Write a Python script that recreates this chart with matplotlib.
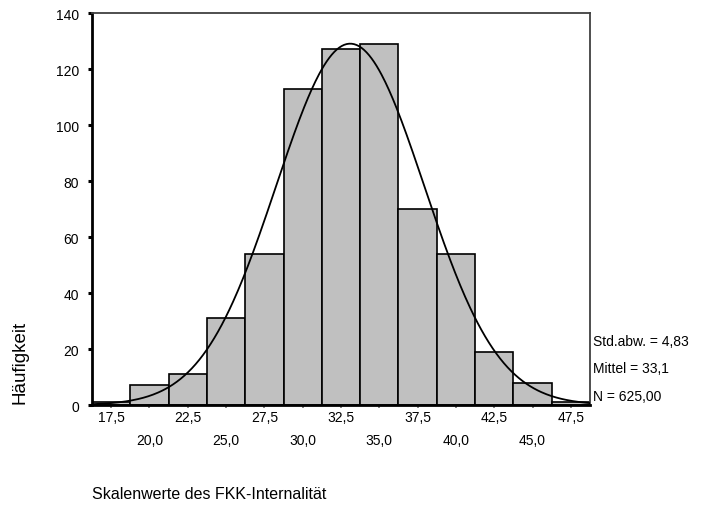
import numpy as np
import matplotlib.pyplot as plt

plt.rcParams['font.family'] = ['Liberation Sans', 'DejaVu Sans']

# Klassenmitten und Häufigkeiten der Skalenwerte
klassen = [17.5, 20.0, 22.5, 25.0, 27.5, 30.0, 32.5, 35.0, 37.5, 40.0, 42.5, 45.0, 47.5]
haeufigkeit = [1, 7, 11, 31, 54, 113, 127, 129, 70, 54, 19, 8, 1]
breite = 2.5

# Kennwerte für die Normalverteilungskurve
std_abw = 4.83
mittel = 33.1
n = 625

ytick_werte = [0, 20, 40, 60, 80, 100, 120, 140]


def komma(v, stellen):
    return f'{v:.{stellen}f}'.replace('.', ',')


fig = plt.figure(figsize=(7.01, 5.06), dpi=100)
ax = fig.add_axes([0.1312, 0.1976, 0.7105, 0.7747])

ax.bar(klassen, haeufigkeit, width=breite, color='#c0c0c0',
       edgecolor='black', linewidth=1.2, zorder=2)

xmin = klassen[0] - breite / 2
xmax = klassen[-1] + breite / 2
xs = np.linspace(xmin, xmax, 400)
ys = n * breite / (std_abw * np.sqrt(2 * np.pi)) * np.exp(-0.5 * ((xs - mittel) / std_abw) ** 2)
ax.plot(xs, ys, color='black', linewidth=1.3, zorder=3)

ax.set_xlim(xmin, xmax)
ax.set_ylim(0, 140)
ax.set_yticks(ytick_werte)
ax.set_yticklabels([str(v) for v in ytick_werte], fontsize=10)

# versetzte Beschriftung: ungerade Klassen oben, gerade darunter
oben = klassen[0::2]
unten = klassen[1::2]
ax.set_xticks(oben)
ax.set_xticklabels([komma(v, 1) for v in oben], fontsize=10)
ax.set_xticks(unten, minor=True)
ax.set_xticklabels([komma(v, 1) for v in unten], minor=True, fontsize=10)

ax.tick_params(axis='x', which='major', length=2, width=1.2, color='#707070', pad=1.5)
ax.tick_params(axis='x', which='minor', length=2, width=1.2, color='#707070', pad=18)
ax.tick_params(axis='y', length=3, width=2.2, color='black', pad=6.5)

for s in ['left', 'bottom']:
    ax.spines[s].set_linewidth(2)
    ax.spines[s].set_color('black')
for s in ['top', 'right']:
    ax.spines[s].set_linewidth(1.3)
    ax.spines[s].set_color('#404040')

fig.text(0.028, 0.283, 'Häufigkeit', rotation=90, ha='center', va='center', fontsize=13.5)
fig.text(0.1312, 0.0237, 'Skalenwerte des FKK-Internalität', ha='left', va='center', fontsize=11.5)

fig.text(0.846, 0.324, f'Std.abw. = {komma(std_abw, 2)}', ha='left', va='center', fontsize=10)
fig.text(0.846, 0.270, f'Mittel = {komma(mittel, 1)}', ha='left', va='center', fontsize=10)
fig.text(0.846, 0.215, f'N = {komma(n, 2)}', ha='left', va='center', fontsize=10)

fig.savefig('out.png', dpi=100)
